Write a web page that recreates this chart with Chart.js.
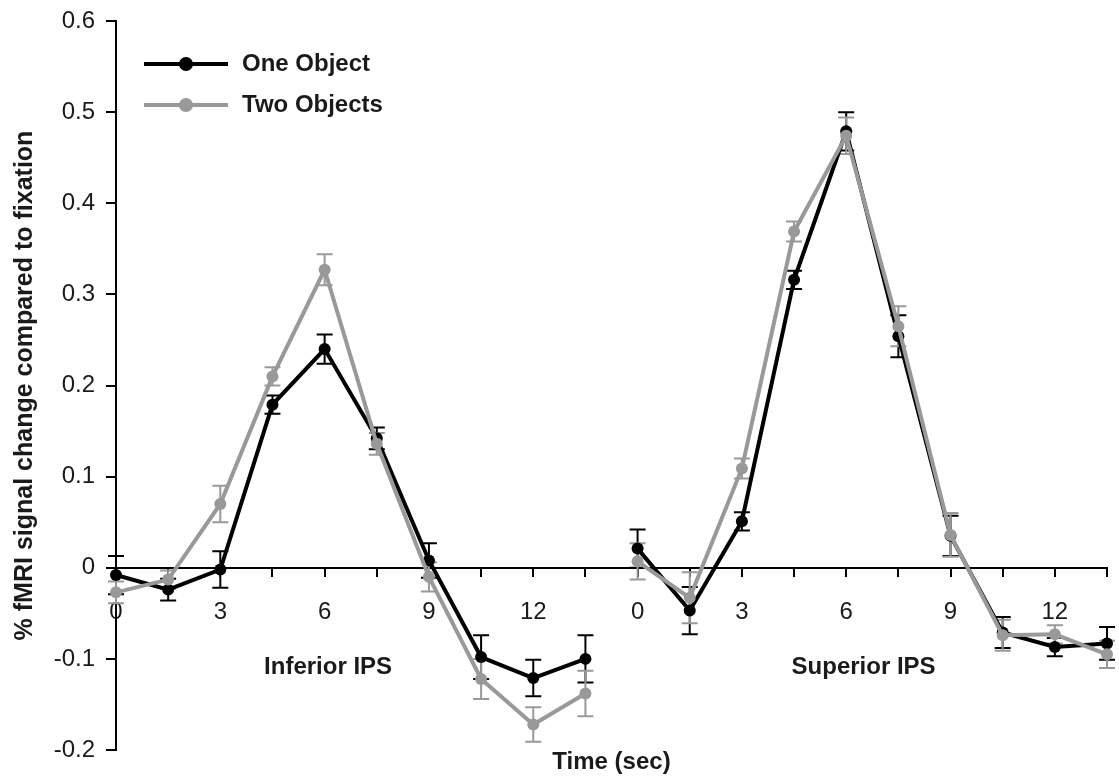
<!DOCTYPE html>
<html>
<head>
<meta charset="utf-8">
<script src="https://cdn.jsdelivr.net/npm/chart.js@4.4.1/dist/chart.umd.min.js"></script>
<style>
  html, body { margin: 0; padding: 0; background: #fff; }
  #wrap { width: 1119px; height: 783px; }
</style>
</head>
<body>
<div id="wrap"><canvas id="fmriChart"></canvas></div>
<script>
// time points of one trial (sec); the second panel sits after the first on the same axis
const timeSec = [0, 1.5, 3, 4.5, 6, 7.5, 9, 10.5, 12, 13.5];
const superiorShift = 15;

const regionNames = ["Inferior IPS", "Superior IPS"];
const seriesNames = ["One Object", "Two Objects"];

// % signal change
const oneInferior    = [-0.008, -0.024, -0.002, 0.179, 0.240, 0.142, 0.008, -0.098, -0.121, -0.100];
const oneInferiorErr = [0.021, 0.012, 0.020, 0.010, 0.016, 0.012, 0.019, 0.024, 0.020, 0.026];
const twoInferior    = [-0.027, -0.013, 0.070, 0.210, 0.327, 0.136, -0.010, -0.122, -0.172, -0.138];
const twoInferiorErr = [0.012, 0.010, 0.020, 0.010, 0.017, 0.012, 0.016, 0.022, 0.019, 0.025];

const oneSuperior    = [0.021, -0.047, 0.051, 0.316, 0.479, 0.254, 0.035, -0.071, -0.087, -0.083];
const oneSuperiorErr = [0.021, 0.026, 0.010, 0.010, 0.021, 0.023, 0.022, 0.017, 0.010, 0.018];
const twoSuperior    = [0.007, -0.033, 0.109, 0.369, 0.474, 0.265, 0.036, -0.074, -0.073, -0.095];
const twoSuperiorErr = [0.020, 0.028, 0.011, 0.011, 0.020, 0.022, 0.024, 0.017, 0.010, 0.015];

const black = "#000000";
const grey = "#999999";
const textColor = "#1a1a1a";

Chart.defaults.font.family = "'Liberation Sans', Arial, Helvetica, sans-serif";

function joinPanels(inf, sup) {
    const pts = timeSec.map((t, i) => ({ x: t, y: inf[i] }));
    pts.push({ x: 14.25, y: null }); // break the line between panels
    timeSec.forEach((t, i) => pts.push({ x: t + superiorShift, y: sup[i] }));
    return pts;
}

// error bars, drawn under the lines
const errorBars = {
    id: "errorBars",
    beforeDatasetsDraw(chart) {
        const ctx = chart.ctx;
        const xs = chart.scales.x, ys = chart.scales.y;
        ctx.save();
        chart.data.datasets.forEach((ds) => {
            ctx.strokeStyle = ds.borderColor;
            ctx.lineWidth = 2;
            ds.data.forEach((p, i) => {
                const e = ds.errors[i];
                if (p.y === null || e == null) return;
                const px = xs.getPixelForValue(p.x);
                const top = ys.getPixelForValue(p.y + e);
                const bot = ys.getPixelForValue(p.y - e);
                ctx.beginPath();
                ctx.moveTo(px, top); ctx.lineTo(px, bot);
                ctx.moveTo(px - 8, top); ctx.lineTo(px + 8, top);
                ctx.moveTo(px - 8, bot); ctx.lineTo(px + 8, bot);
                ctx.stroke();
            });
        });
        ctx.restore();
    }
};

// panel names and the line+dot legend in the top left corner
const annotations = {
    id: "annotations",
    afterDraw(chart) {
        const ctx = chart.ctx;
        const xs = chart.scales.x, ys = chart.scales.y;
        ctx.save();
        ctx.fillStyle = textColor;
        ctx.font = "bold 24px 'Liberation Sans', Arial, sans-serif";
        ctx.textAlign = "center";
        ctx.textBaseline = "middle";
        ctx.fillText(regionNames[0], xs.getPixelForValue(6.1), ys.getPixelForValue(-0.109));
        ctx.fillText(regionNames[1], xs.getPixelForValue(6.5 + superiorShift), ys.getPixelForValue(-0.109));

        const rows = [64, 105];
        chart.data.datasets.forEach((ds, i) => {
            const y = rows[i];
            ctx.strokeStyle = ds.borderColor;
            ctx.fillStyle = ds.borderColor;
            ctx.lineWidth = 4;
            ctx.beginPath();
            ctx.moveTo(144, y); ctx.lineTo(228, y);
            ctx.stroke();
            ctx.beginPath();
            ctx.arc(186, y, 7, 0, Math.PI * 2);
            ctx.fill();
            ctx.fillStyle = textColor;
            ctx.textAlign = "left";
            ctx.fillText(ds.label, 242, y);
        });
        ctx.restore();
    }
};

const ctx = document.getElementById("fmriChart");

new Chart(ctx, {
    type: "line",
    data: {
        datasets: [
            {
                label: seriesNames[0],
                data: joinPanels(oneInferior, oneSuperior),
                errors: oneInferiorErr.concat([null], oneSuperiorErr),
                borderColor: black,
                backgroundColor: black,
                borderWidth: 4,
                pointRadius: 6,
                pointBorderWidth: 0,
                pointHoverRadius: 6,
                spanGaps: false,
                clip: false,
                order: 1,
                xAxisID: "x"
            },
            {
                label: seriesNames[1],
                data: joinPanels(twoInferior, twoSuperior),
                errors: twoInferiorErr.concat([null], twoSuperiorErr),
                borderColor: grey,
                backgroundColor: grey,
                borderWidth: 4,
                pointRadius: 6,
                pointBorderWidth: 0,
                pointHoverRadius: 6,
                spanGaps: false,
                clip: false,
                order: 0,
                xAxisID: "x"
            }
        ]
    },
    options: {
        responsive: true,
        maintainAspectRatio: false,
        animation: false,
        layout: { padding: { top: 21, right: 12, left: 0, bottom: 0 } },
        plugins: {
            legend: { display: false },
            tooltip: { enabled: false }
        },
        scales: {
            x: {
                type: "linear",
                min: 0,
                max: 28.5,
                position: { y: 0 },
                // keep the label padding from pushing the plot area in
                afterFit(s) { s.paddingLeft = 0; s.paddingRight = 0; s.paddingTop = 0; s.paddingBottom = 0; },
                grid: { drawOnChartArea: false, tickLength: 8, color: black, lineWidth: 2 },
                border: { color: black, width: 2 },
                ticks: {
                    stepSize: 1.5,
                    autoSkip: false,
                    maxRotation: 0,
                    padding: 22,
                    color: textColor,
                    font: { size: 24 },
                    callback: (v) => (v % 3 === 0 ? String(v >= superiorShift ? v - superiorShift : v) : "")
                }
            },
            xt: {
                type: "linear",
                position: "bottom",
                min: 0,
                max: 28.5,
                afterFit(s) { s.height = 33; },
                grid: { display: false },
                border: { display: false },
                ticks: { display: false },
                title: {
                    display: true,
                    text: "Time (sec)",
                    color: textColor,
                    font: { size: 24, weight: "bold" },
                    padding: { top: 0, bottom: 6 }
                }
            },
            y: {
                min: -0.2,
                max: 0.6,
                afterFit(s) { s.width = 116; s.paddingTop = 0; s.paddingBottom = 0; },
                grid: { drawOnChartArea: false, tickLength: 10, color: black, lineWidth: 2 },
                border: { color: black, width: 2 },
                ticks: { stepSize: 0.1, padding: 11, color: textColor, font: { size: 24 } },
                title: {
                    display: true,
                    text: "% fMRI signal change compared to fixation",
                    color: textColor,
                    font: { size: 25, weight: "bold" },
                    padding: { top: 10, bottom: 0 }
                }
            }
        }
    },
    plugins: [errorBars, annotations]
});
</script>
</body>
</html>
